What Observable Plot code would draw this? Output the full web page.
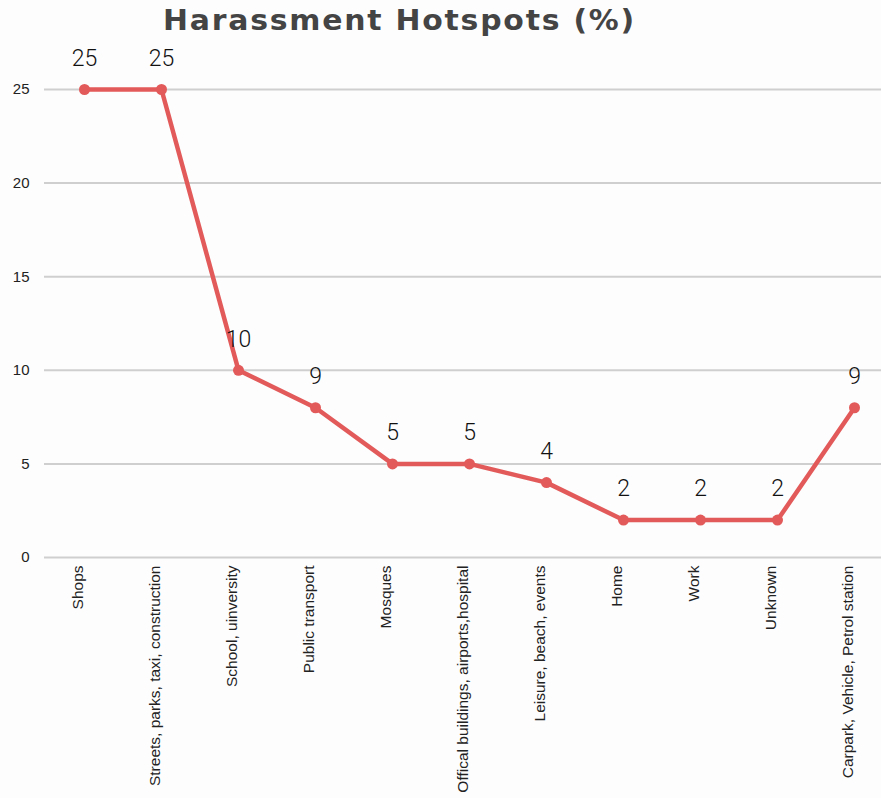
<!DOCTYPE html>
<html>
<head>
<meta charset="utf-8">
<script src="https://cdn.jsdelivr.net/npm/d3@7"></script>
<script src="https://cdn.jsdelivr.net/npm/@observablehq/plot@0.6"></script>
<style>
  html, body { margin: 0; padding: 0; background: #fdfdfd; }
  #title {
    width: 881px; height: 30px; position: relative;
    font-family: "DejaVu Sans Condensed", "DejaVu Sans", sans-serif;
    font-stretch: condensed; font-weight: bold; font-size: 28px;
    color: #444; white-space: nowrap; overflow: visible;
  }
  #title span { position: absolute; left: 163px; top: 4px; letter-spacing: 1.5px; transform-origin: left center; }
</style>
</head>
<body>
<div id="title"><span id="titletext">Harassment Hotspots (%)</span></div>
<div id="chart"></div>
<script>
const categories = [
  "Shops",
  "Streets, parks, taxi, construction",
  "School, uinversity",
  "Public transport",
  "Mosques",
  "Offical buildings, airports,hospital",
  "Leisure, beach, events",
  "Home",
  "Work",
  "Unknown",
  "Carpark, Vehicle, Petrol station"
];
const values = [25, 25, 10, 8, 5, 5, 4, 2, 2, 2, 8];
const labels = ["25", "25", "10", "9", "5", "5", "4", "2", "2", "2", "9"];
const yTicks = [0, 5, 10, 15, 20, 25];

// fit title to the reference width
const t = document.getElementById("titletext");
const w0 = t.getBoundingClientRect().width;
t.style.transform = "scaleX(" + (473 / w0) + ")";

const data = categories.map((c, i) => ({category: c, value: values[i], label: labels[i]}));
const red = "#e35a5a";

const chart = Plot.plot({
  width: 881,
  height: 768,
  marginLeft: 44,
  marginRight: 0,
  marginTop: 59,
  marginBottom: 241,
  style: {background: "transparent", fontFamily: "'Liberation Sans', Arial, sans-serif", color: "#222"},
  x: {type: "point", domain: categories, padding: 0, insetLeft: 38, insetRight: 26, label: null},
  y: {domain: [0, 25], label: null},
  marks: [
    Plot.ruleY(yTicks, {stroke: "#cfcfcf", strokeWidth: 2}),
    Plot.axisY({ticks: yTicks, tickSize: 0, tickPadding: 15, fontSize: 15, label: null}),
    Plot.axisX({tickSize: 0, tickRotate: -90, tickPadding: 8, fontSize: 15.5, dx: -6, label: null}),
    Plot.line(data, {x: "category", y: "value", stroke: red, strokeWidth: 4.5}),
    Plot.dot(data, {x: "category", y: "value", r: 5.5, fill: red}),
    Plot.text(data, {x: "category", y: "value", text: "label", dy: -31, fontSize: 23, fontWeight: 300,
      fontFamily: "Roboto, 'Liberation Sans', sans-serif", fill: "#111"})
  ]
});
document.getElementById("chart").appendChild(chart);
</script>
</body>
</html>
